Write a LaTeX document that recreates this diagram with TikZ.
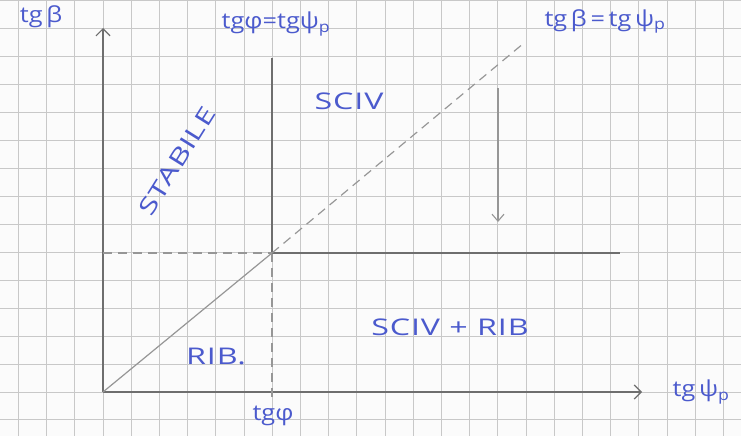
\documentclass[tikz,border=0pt]{standalone}
\usepackage{fontspec}
\setmainfont{Open Sans}
\usetikzlibrary{arrows.meta}
\definecolor{ink}{RGB}{75,90,205}
\definecolor{gridc}{RGB}{200,200,200}
\definecolor{pencil}{RGB}{110,110,110}
\definecolor{pencillight}{RGB}{150,150,150}
\newfontfamily\handfont[FakeStretch=1.15]{Open Sans}
\newfontfamily\handcapsfont[FakeStretch=1.4,LetterSpace=4]{Open Sans}
\tikzset{
  axis/.style={draw=pencil,line width=1.4pt,-{Straight Barb[length=7pt,width=14pt,line width=1.2pt]}},
  pline/.style={draw=pencil,line width=1.3pt},
  diag/.style={draw=pencillight,line width=1.2pt},
  dline/.style={draw=pencillight,line width=1.2pt,dash pattern=on 9pt off 6pt},
  downarrow/.style={draw=pencillight,line width=1.2pt,-{Straight Barb[length=7pt,width=12pt,line width=1.1pt]}},
  hand/.style={text=ink,font=\handfont\fontsize{22}{22}\selectfont,inner sep=0pt},
  handcaps/.style={text=ink,font=\handcapsfont\fontsize{23}{23}\selectfont,inner sep=0pt},
}
\begin{document}
\begin{tikzpicture}[x=1pt,y=-1pt]
\useasboundingbox (0,0) rectangle (741,436);
\fill[white!97!gray] (0,0) rectangle (741,436);
% grid paper
\foreach \i in {-3,...,22} {\draw[gridc,line width=1pt] ({103+28.2*\i},0) -- ({103+28.2*\i},436);}
\foreach \j in {-1,...,14} {\draw[gridc,line width=1pt] (0,{392-27.95*\j}) -- (741,{392-27.95*\j});}
% coordinates
\coordinate (O) at (103,392);
\coordinate (ytip) at (103,28);
\coordinate (xtip) at (642,392);
\coordinate (P) at (272,253);
\coordinate (vtop) at (272,58);
\coordinate (vbot) at (272,402);
\coordinate (hleft) at (103,253);
\coordinate (hright) at (620,253);
\coordinate (dend) at (524,43);
\coordinate (a1) at (498,88);
\coordinate (a2) at (498,222);
% lines
\draw[axis] (O) -- (ytip);
\draw[axis] (O) -- (xtip);
\draw[pline] (vtop) -- (P);
\draw[dline] (P) -- (vbot);
\draw[dline] (hleft) -- (P);
\draw[pline] (P) -- (hright);
\draw[diag] (O) -- (P);
\draw[dline] (P) -- (dend);
\draw[downarrow] (a1) -- (a2);
% labels
\node[hand] (lb) at (41,17) {tg\,β};
\node[hand] (lphi) at (276,24) {tgφ=tgψ\textsubscript{p}};
\node[hand] (lbeta) at (605,21) {tg\,β\,=\,tg\,ψ\textsubscript{p}};
\node[handcaps] (sciv) at (349,101) {SCIV};
\node[handcaps,rotate=58] (stab) at (177,161) {STABILE};
\node[handcaps] (rib) at (216,356) {RIB.};
\node[handcaps] (scr) at (450,327) {SCIV + RIB};
\node[hand] (lphi2) at (273,416) {tgφ};
\node[hand] (lpsi) at (701,392) {tg\,ψ\textsubscript{p}};
\end{tikzpicture}
\end{document}
